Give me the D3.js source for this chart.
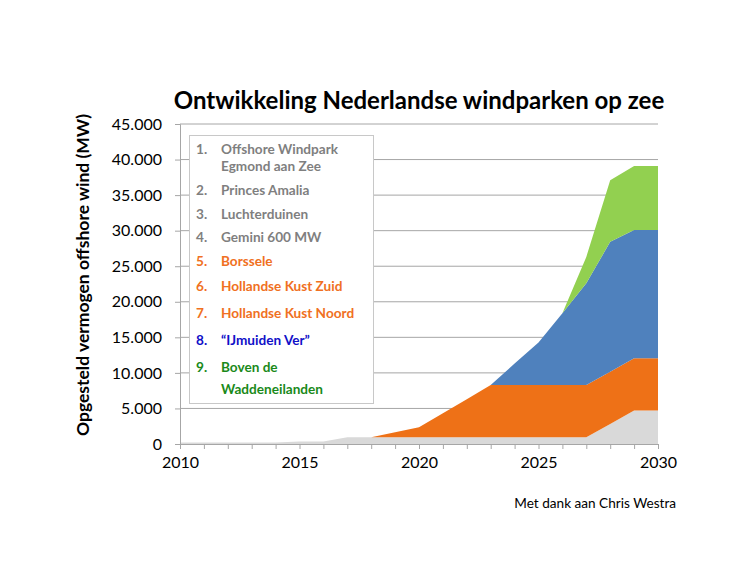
<!DOCTYPE html>
<html>
<head>
<meta charset="utf-8">
<script src="https://cdn.jsdelivr.net/npm/d3@7"></script>
<style>
  body { margin: 0; background: #fff; }
  svg { display: block; font-family: Lato, "Open Sans", sans-serif; }
</style>
</head>
<body>
<svg id="chart" width="732" height="565"></svg>
<script>
const years = d3.range(2010, 2031);
// layer values (MW), stacked bottom to top
const existing = [228,228,228,228,228,357,357,957,957,957,957,957,957,957,957,957,957,957,2800,4700,4700];
const borsseleHK = [0,0,0,0,0,0,0,0,0,700,1400,3350,5350,7350,7350,7350,7350,7350,7350,7350,7350];
const ijmuiden = [0,0,0,0,0,0,0,0,0,0,0,0,0,0,3000,5950,10080,14300,18280,18050,18050];
const wadden = [0,0,0,0,0,0,0,0,0,0,0,0,0,0,0,0,0,3700,8650,9000,9000];
const layerKeys = ["existing","borsseleHK","ijmuiden","wadden"];
const layerColors = ["#d9d9d9","#ee7117","#4f81bd","#92d050"];
const yTicks = [0,5000,10000,15000,20000,25000,30000,35000,40000,45000];
const xTicks = [2010,2015,2020,2025,2030];
const legendNums = ["1.","","2.","3.","4.","5.","6.","7.","8.","9.",""];
const legendLabels = ["Offshore Windpark","Egmond aan Zee","Princes Amalia","Luchterduinen","Gemini 600 MW","Borssele","Hollandse Kust Zuid","Hollandse Kust Noord","\u201CIJmuiden Ver\u201D","Boven de","Waddeneilanden"];
const legendColors = ["#7f7f7f","#7f7f7f","#7f7f7f","#7f7f7f","#7f7f7f","#f07022","#f07022","#f07022","#1010c8","#1a8a1a","#1a8a1a"];
const titleText = "Ontwikkeling Nederlandse windparken op zee";
const yLabel = "Opgesteld vermogen offshore wind (MW)";
const credit = "Met dank aan Chris Westra";

const svg = d3.select("#chart");
const x = d3.scaleLinear().domain([2010, 2030]).range([180, 658]);
const y = d3.scaleLinear().domain([0, 45000]).range([444, 124]);
const fmt = v => d3.format(",")(v).replace(/,/g, ".");

const table = years.map((yr, i) => ({year: yr, existing: existing[i], borsseleHK: borsseleHK[i], ijmuiden: ijmuiden[i], wadden: wadden[i]}));

// gridlines
svg.append("g").selectAll("line").data(yTicks.filter(d => d > 0)).join("line")
  .attr("x1", x(2010)).attr("x2", x(2030))
  .attr("y1", d => y(d)).attr("y2", d => y(d))
  .attr("stroke", "#a6a6a6").attr("stroke-width", 1);

// stacked areas
const stack = d3.stack().keys(layerKeys)(table);
const area = d3.area().x(d => x(d.data.year)).y0(d => y(d[0])).y1(d => y(d[1]));
svg.append("g").selectAll("path").data(stack).join("path")
  .attr("d", area).attr("fill", (d, i) => layerColors[i]);

// y axis
const yAxis = d3.axisLeft(y).tickValues(yTicks).tickFormat(fmt).tickSize(5).tickPadding(13);
const gy = svg.append("g").attr("transform", `translate(${x(2010)},0)`).call(yAxis);
gy.select(".domain").attr("stroke", "#a6a6a6");
gy.selectAll(".tick line").attr("stroke", "#a6a6a6");
gy.selectAll(".tick text").attr("font-size", 16).attr("fill", "#000").attr("font-family", "Lato, sans-serif");

// x axis
const xAxis = d3.axisBottom(x).tickValues(years).tickFormat(d => xTicks.includes(d) ? d : "").tickSize(5).tickPadding(8);
const gx = svg.append("g").attr("transform", `translate(0,${y(0)})`).call(xAxis);
gx.select(".domain").attr("stroke", "#a6a6a6");
gx.selectAll(".tick line").attr("stroke", "#a6a6a6");
gx.selectAll(".tick text").attr("font-size", 16).attr("fill", "#000").attr("font-family", "Lato, sans-serif");

// legend
svg.append("rect").attr("x", 189.5).attr("y", 135.5).attr("width", 184).attr("height", 268)
  .attr("fill", "#fff").attr("stroke", "#c8c8c8");
const legY = [149,166.7,190,214,237.3,261.7,286.7,313.3,340,367.7,389.3];
const lg = svg.append("g").attr("font-weight", "bold").attr("font-size", 13.6);
lg.selectAll("text.num").data(legendNums).join("text").attr("class","num")
  .attr("x", 196).attr("y", (d, i) => legY[i]).attr("dy", "0.35em")
  .attr("fill", (d, i) => legendColors[i]).text(d => d);
lg.selectAll("text.lab").data(legendLabels).join("text").attr("class","lab")
  .attr("x", 221).attr("y", (d, i) => legY[i]).attr("dy", "0.35em")
  .attr("fill", (d, i) => legendColors[i]).text(d => d);

// title
svg.append("text").attr("x", 419).attr("y", 101).attr("dy", "0.35em").attr("text-anchor", "middle")
  .attr("font-size", 24).attr("font-weight", "bold").attr("fill", "#000").text(titleText);

// y label
svg.append("text").attr("transform", "translate(83,275) rotate(-90)").attr("dy", "0.35em")
  .attr("text-anchor", "middle").attr("font-size", 17.5).attr("font-weight", "bold").attr("fill", "#000").text(yLabel);

// credit
svg.append("text").attr("x", 676).attr("y", 503).attr("dy", "0.35em").attr("text-anchor", "end")
  .attr("font-size", 13.6).attr("fill", "#000").text(credit);
</script>
</body>
</html>
